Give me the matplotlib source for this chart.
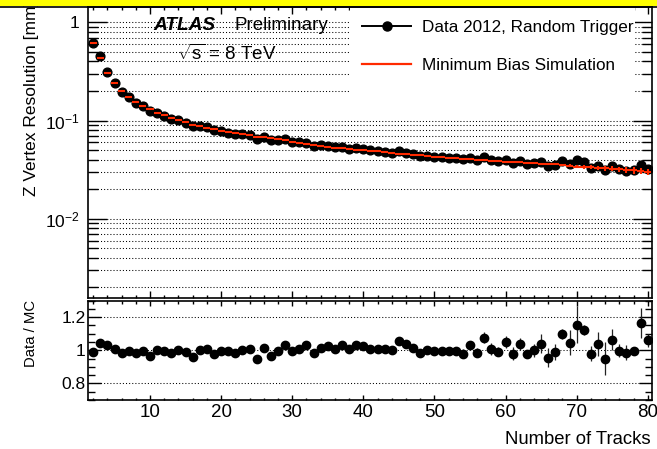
import numpy as np
import matplotlib
matplotlib.use("Agg")
import matplotlib.pyplot as plt
from matplotlib.lines import Line2D
from matplotlib.patches import Rectangle
from matplotlib.ticker import FixedLocator, FixedFormatter, LogLocator, NullFormatter, MultipleLocator

plt.rcParams['font.family'] = ['Liberation Sans', 'DejaVu Sans']
plt.rcParams['mathtext.fontset'] = 'custom'
plt.rcParams['mathtext.rm'] = 'Liberation Sans'
plt.rcParams['mathtext.it'] = 'Liberation Sans:italic'
plt.rcParams['mathtext.bf'] = 'Liberation Sans:bold'
plt.rcParams['axes.unicode_minus'] = False

# number of tracks per vertex (bins 2..80)
n_tracks = np.arange(2, 81)

# minimum bias simulation, z resolution [mm]
mc_res = [0.622, 0.431, 0.303, 0.240, 0.200, 0.173, 0.153, 0.141, 0.130,
          0.120, 0.113, 0.106, 0.101, 0.096, 0.091, 0.088, 0.0845, 0.0813, 0.0782,
          0.0758, 0.0740, 0.0723, 0.0705, 0.0688, 0.0673, 0.0660, 0.0643, 0.0627, 0.0610,
          0.0595, 0.0578, 0.0565, 0.0553, 0.0542, 0.0530, 0.0520, 0.0512, 0.0505, 0.0498,
          0.0493, 0.0487, 0.0478, 0.0470, 0.0462, 0.0455, 0.0448, 0.0442, 0.0436, 0.0430,
          0.0425, 0.0420, 0.0415, 0.0410, 0.0405, 0.0400, 0.0396, 0.0392, 0.0388, 0.0383,
          0.0380, 0.0376, 0.0372, 0.0369, 0.0365, 0.0362, 0.0358, 0.0354, 0.0348, 0.0340,
          0.0338, 0.0335, 0.0332, 0.0328, 0.0324, 0.0320, 0.0315, 0.0311, 0.0305, 0.0302]
mc_err = [0.0005, 0.0004, 0.0003, 0.0002, 0.0002, 0.0002, 0.0002, 0.0002, 0.0002,
          0.0002, 0.0002, 0.0002, 0.0002, 0.0002, 0.0002, 0.0002, 0.0002, 0.0002, 0.0002,
          0.0002, 0.0002, 0.0002, 0.0002, 0.0002, 0.0002, 0.0002, 0.0002, 0.0002, 0.0002,
          0.0002, 0.0002, 0.0002, 0.0002, 0.0002, 0.0002, 0.0002, 0.0002, 0.0002, 0.0002,
          0.0003, 0.0003, 0.0003, 0.0003, 0.0003, 0.0003, 0.0003, 0.0003, 0.0003, 0.0003,
          0.0004, 0.0004, 0.0004, 0.0004, 0.0004, 0.0005, 0.0005, 0.0005, 0.0005, 0.0006,
          0.0006, 0.0006, 0.0007, 0.0007, 0.0008, 0.0008, 0.0009, 0.0010, 0.0011, 0.0012,
          0.0014, 0.0015, 0.0016, 0.0018, 0.0019, 0.0020, 0.0021, 0.0022, 0.0022, 0.0023]

# data 2012 / MC
ratio = [0.990, 1.046, 1.030, 1.008, 0.986, 0.998, 0.982, 0.994, 0.964,
         1.004, 0.994, 0.984, 1.000, 0.992, 0.958, 1.000, 1.006, 0.976, 0.998,
         0.996, 0.984, 1.004, 1.006, 0.948, 1.016, 0.968, 0.996, 1.034, 0.998,
         1.010, 1.034, 0.986, 1.016, 1.024, 1.010, 1.034, 1.006, 1.034, 1.028,
         1.006, 1.006, 1.008, 1.000, 1.054, 1.038, 1.016, 0.986, 1.004, 0.994,
         0.996, 0.996, 0.996, 0.980, 1.030, 0.986, 1.076, 1.008, 0.992, 1.048,
         0.980, 1.036, 0.976, 1.000, 1.040, 0.956, 0.990, 1.100, 1.046, 1.154,
         1.120, 0.980, 1.038, 0.950, 1.064, 0.998, 0.984, 0.998, 1.166, 1.060]
ratio_err = [0.005, 0.005, 0.005, 0.005, 0.005, 0.005, 0.005, 0.005, 0.005,
             0.005, 0.005, 0.005, 0.005, 0.005, 0.005, 0.005, 0.005, 0.005, 0.005,
             0.008, 0.008, 0.008, 0.008, 0.008, 0.008, 0.008, 0.008, 0.008, 0.008,
             0.008, 0.008, 0.008, 0.008, 0.008, 0.008, 0.008, 0.008, 0.008, 0.008,
             0.012, 0.012, 0.012, 0.012, 0.012, 0.012, 0.012, 0.012, 0.012, 0.012,
             0.020, 0.020, 0.020, 0.025, 0.020, 0.025, 0.035, 0.035, 0.025, 0.035,
             0.040, 0.035, 0.025, 0.040, 0.055, 0.060, 0.050, 0.030, 0.075, 0.110,
             0.030, 0.045, 0.070, 0.100, 0.065, 0.040, 0.045, 0.020, 0.090, 0.040]

# data points = MC x ratio (the ratio panel defines it)
data_res = np.array(mc_res) * np.array(ratio)

RED = '#ff2a00'
W, H = 657, 449
fig = plt.figure(figsize=(W / 100, H / 100), dpi=100)

x0, x1 = 88.2, 651.5
ax = fig.add_axes([x0 / W, 1 - 297.5 / H, (x1 - x0) / W, 291 / H])
ax2 = fig.add_axes([x0 / W, 1 - 400 / H, (x1 - x0) / W, 99.5 / H])

for a in (ax, ax2):
    a.set_xlim(1.3, 80.53)
    for s in a.spines.values():
        s.set_linewidth(1.2)
    a.xaxis.set_major_locator(MultipleLocator(10))
    a.xaxis.set_minor_locator(MultipleLocator(2))

# ---- top panel
ax.set_yscale('log')
ax.set_ylim(0.00158, 1.45)
ax.yaxis.set_major_locator(FixedLocator([0.01, 0.1, 1]))
ax.yaxis.set_major_formatter(FixedFormatter(['$10^{-2}$', '$10^{-1}$', '1']))
ax.yaxis.set_minor_locator(LogLocator(base=10, subs=np.arange(2, 10), numticks=20))
ax.yaxis.set_minor_formatter(NullFormatter())
ax.tick_params(axis='both', which='both', direction='in', top=True, right=True)
ax.tick_params(axis='x', which='major', length=5, width=1)
ax.tick_params(axis='x', which='minor', length=2.5, width=1)
ax.tick_params(axis='y', which='major', length=14, width=1, labelsize=12.5, pad=6)
ax.tick_params(axis='y', which='minor', length=7, width=1)
ax.tick_params(axis='x', labelbottom=False)
ax.grid(axis='y', which='both', linestyle=(0, (1, 2)), linewidth=0.75, color='black')

ax.add_patch(Rectangle((0.4648, 0.6615), 0.5059, 0.3385, transform=ax.transAxes,
                       facecolor='white', edgecolor='none', zorder=2))

ax.plot(n_tracks, data_res, 'o', color='black', ms=6.3, zorder=3)
ax.errorbar(n_tracks, mc_res, xerr=0.5, yerr=mc_err, fmt='none', ecolor=RED,
            elinewidth=1.5, capsize=0, zorder=4)

handles = [Line2D([], [], color='black', lw=1.4, marker='o', ms=6.5),
           Line2D([], [], color=RED, lw=1.6)]
ax.legend(handles, ['Data 2012, Random Trigger', 'Minimum Bias Simulation'],
          loc='upper left', bbox_to_anchor=((362 - x0) / (x1 - x0), (297.5 - 20) / 291),
          frameon=False, fontsize=12.3, borderpad=0, borderaxespad=0,
          handlelength=2.87, handletextpad=0.64, labelspacing=1.36)

ax.text((153 - x0) / (x1 - x0), (297.5 - 25) / 291, 'ATLAS', transform=ax.transAxes,
        fontsize=13.8, fontweight='bold', fontstyle='italic', va='center', ha='left')
ax.text((234 - x0) / (x1 - x0), (297.5 - 25) / 291, 'Preliminary', transform=ax.transAxes,
        fontsize=13.5, va='center', ha='left')
ax.text((176.7 - x0) / (x1 - x0), (297.5 - 54) / 291, r'$\sqrt{\mathrm{s}}$ = 8 TeV',
        transform=ax.transAxes, fontsize=13.5, va='center', ha='left')

# ---- ratio panel
ax2.set_ylim(0.7, 1.3)
ax2.yaxis.set_major_locator(FixedLocator([0.8, 1.0, 1.2]))
ax2.yaxis.set_major_formatter(FixedFormatter(['0.8', '1', '1.2']))
ax2.yaxis.set_minor_locator(MultipleLocator(0.05))
ax2.tick_params(axis='both', which='both', direction='in', top=True, right=True)
ax2.tick_params(axis='x', which='major', length=3.6, width=1, labelsize=13.5, pad=3)
ax2.tick_params(axis='x', which='minor', length=1.8, width=1)
ax2.tick_params(axis='y', which='major', length=9.4, width=1, labelsize=12.5, pad=2)
ax2.tick_params(axis='y', which='minor', length=5, width=1)
ax2.grid(axis='y', which='major', linestyle=(0, (1, 2)), linewidth=0.75, color='black')
ax2.errorbar(n_tracks, ratio, yerr=ratio_err, fmt='o', color='black', ms=6,
             ecolor='#222222', elinewidth=0.9, capsize=0, zorder=3)

# ---- labels
fig.text(31.5 / W, 1 - 0.5 / H, 'Z Vertex Resolution [mm]', rotation=90,
         ha='center', va='top', fontsize=12.5)
fig.text(31 / W, 1 - 333 / H, 'Data / MC', rotation=90, ha='center', va='center',
         fontsize=10.7)
fig.text(651 / W, 1 - 448 / H, 'Number of Tracks', ha='right', va='bottom',
         fontsize=13.3)

# yellow strip along the top edge
fig.add_artist(Rectangle((0, 1 - 5.7 / H), 1, 5.7 / H, transform=fig.transFigure,
                         facecolor='#ffff00', edgecolor='none', zorder=10))
fig.add_artist(Line2D([0, 1], [1 - 6.5 / H] * 2, transform=fig.transFigure,
                      color='black', lw=1.2, zorder=11))

fig.savefig('out.png', dpi=100)
